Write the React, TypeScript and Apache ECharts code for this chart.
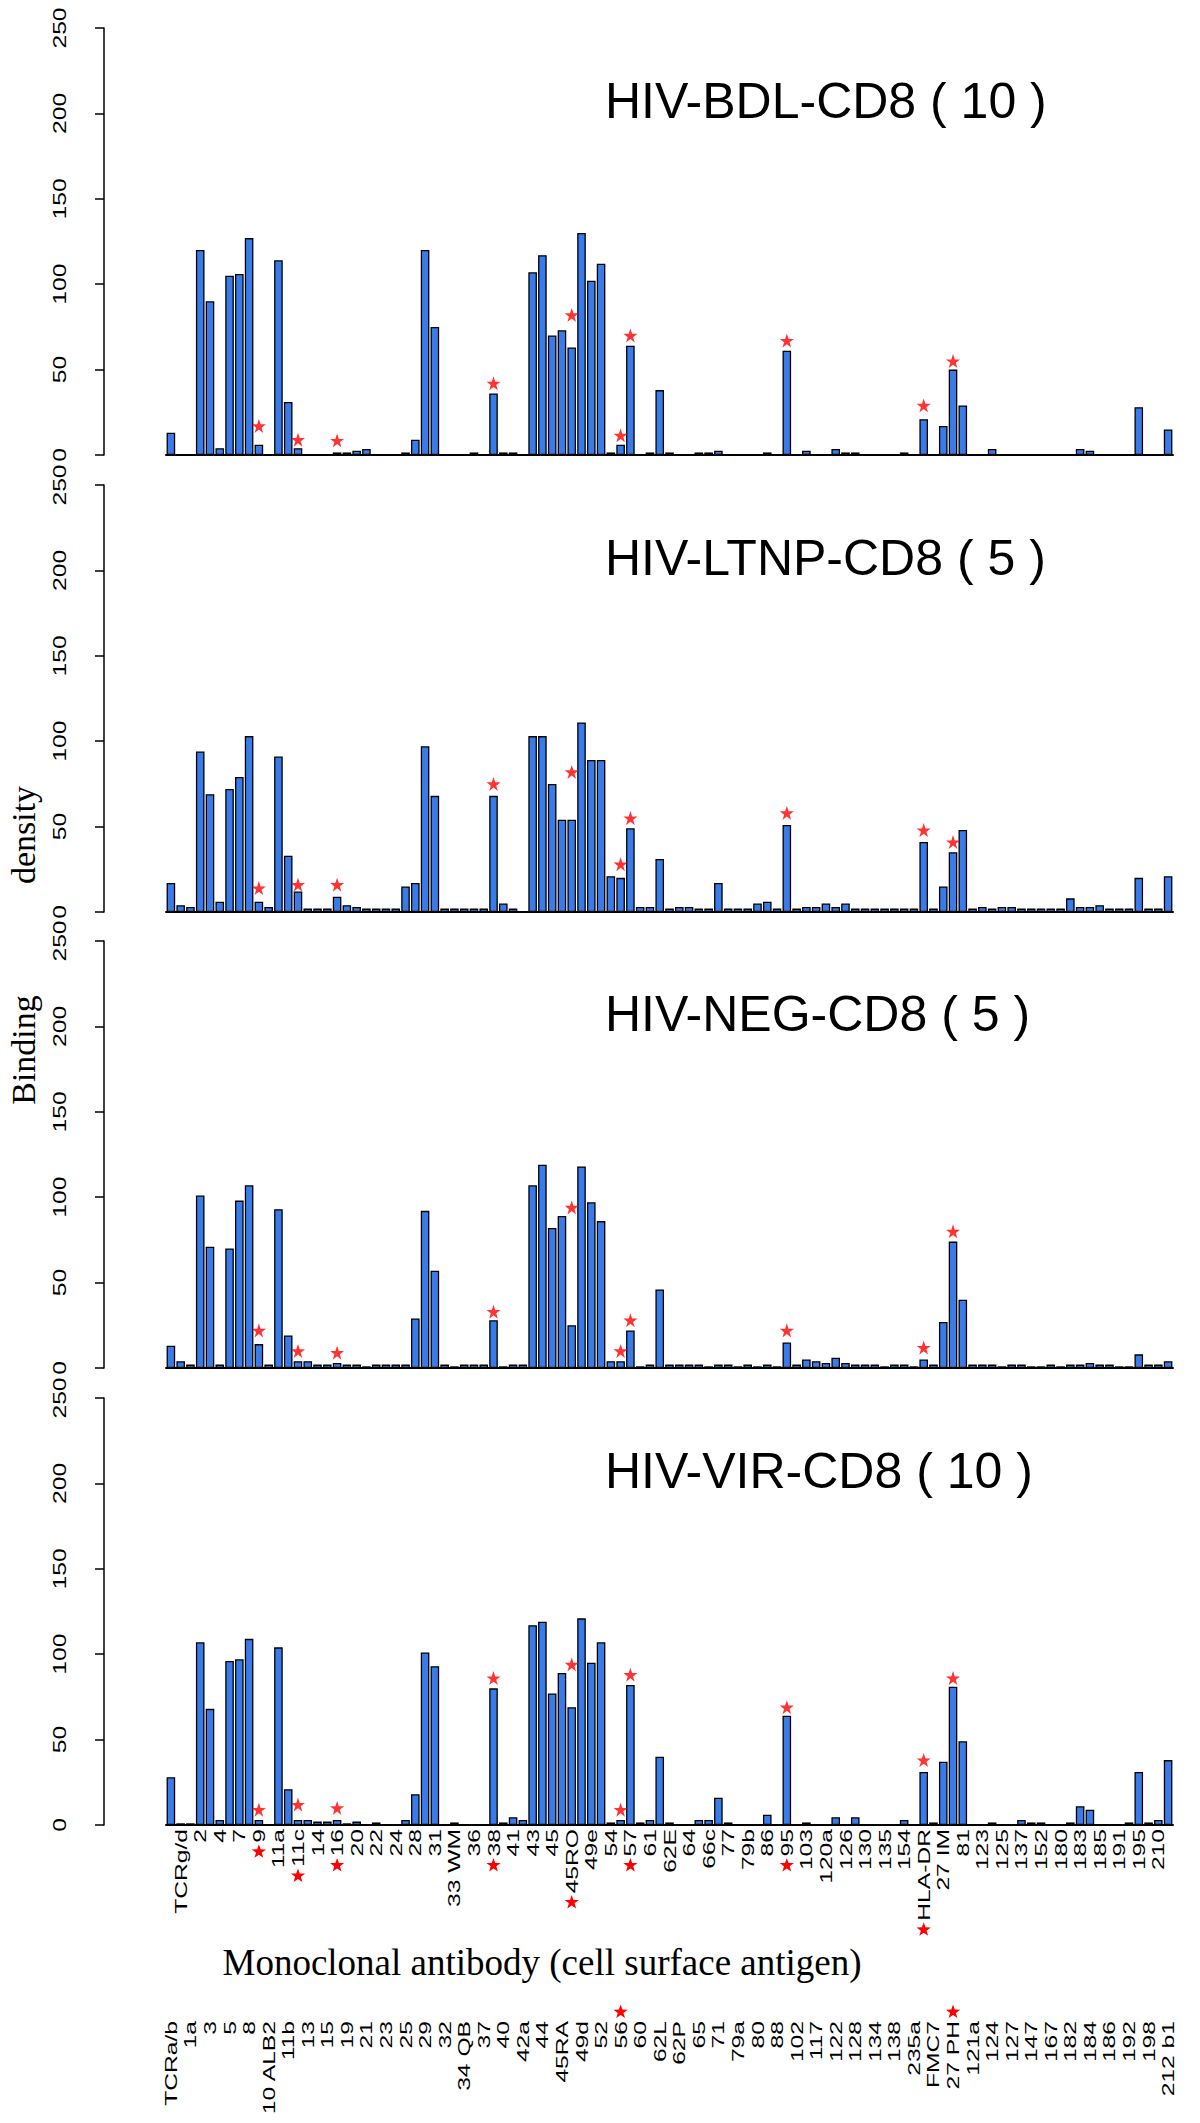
import React, { useEffect, useRef } from 'react';
import * as echarts from 'echarts';

const categories = [
  'TCRa/b','TCRg/d','1a','2','3','4','5','7','8','9',
  '10 ALB2','11a','11b','11c','13','14','15','16','19','20',
  '21','22','23','24','25','28','29','31','32','33 WM',
  '34 QB','36','37','38','40','41','42a','43','44','45',
  '45RA','45RO','49d','49e','52','54','56','57','60','61',
  '62L','62E','62P','64','65','66c','71','77','79a','79b',
  '80','86','88','95','102','103','117','120a','122','126',
  '128','130','134','135','138','154','235a','HLA-DR','FMC7','27 IM',
  '27 PH','81','121a','123','124','125','127','137','147','152',
  '167','180','182','183','184','185','186','191','192','195',
  '198','210','212 b1'
];

const panelTitles = ['HIV-BDL-CD8 ( 10 )', 'HIV-LTNP-CD8 ( 5 )', 'HIV-NEG-CD8 ( 5 )', 'HIV-VIR-CD8 ( 10 )'];

const bdl = [
  13,0,0,120,90,4,105,106,127,6,
  0,114,31,4,0,0,0,1.5,1.5,2.5,
  3.5,0,0,0,1.5,9,120,75,0,0,
  0,1.5,0,36,1.5,1.5,0,107,117,70,
  73,63,130,102,112,1.5,6,64,0,1.5,
  38,1.5,0,0,1.5,1.5,2.5,0,0,0,
  0,1.5,0,61,0,2.5,0,0,3.5,1.5,
  1.5,0,0,0,0,1.5,0,21,0,17,
  50,29,0,0,3.5,0,0,0,0,0,
  0,0,0,3.5,2.5,0,0,0,0,28,
  0,0,15
];
const ltnp = [
  17,4,3,94,69,6,72,79,103,6,
  3,91,33,12,2,2,2,9,4,3,
  2,2,2,2,15,17,97,68,2,2,
  2,2,2,68,5,2,0,103,103,75,
  54,54,111,89,89,21,20,49,3,3,
  31,2,3,3,2,2,17,2,2,2,
  5,6,2,51,2,3,3,5,3,5,
  2,2,2,2,2,2,2,41,2,15,
  35,48,2,3,2,3,3,2,2,2,
  2,2,8,3,3,4,2,2,2,20,
  2,2,21
];
const neg = [
  13,4,2,101,71,2,70,98,107,14,
  2,93,19,4,4,2,2,3,2,2,
  1,2,2,2,2,29,92,57,2,1,
  2,2,2,28,1,2,2,107,119,82,
  89,25,118,97,86,4,4,22,1,2,
  46,2,2,2,2,1,2,2,1,2,
  1,2,1,15,2,5,4,3,6,3,
  2,2,2,1,2,2,1,5,2,27,
  74,40,2,2,2,1,2,2,1,1,
  2,1,2,2,3,2,2,1,1,8,
  2,2,4
];
const vir = [
  28,1,1,107,68,3,96,97,109,3,
  0,104,21,3,3,2,2,3,1,2,
  0,1.5,0,0,3,18,101,93,0,1.5,
  0,0,0,80,1.5,4.5,3,117,119,77,
  89,69,121,95,107,1.5,3,82,1.5,3,
  40,1.5,0,0,3,3,16,1.5,0,0,
  0,6,0,64,0,1.5,0,0,4.5,0,
  4.5,0,0,0,0,3,0,31,1.5,37,
  81,49,0,0,1.5,0,0,3,1.5,1.5,
  0,0,1.5,11,9,0,0,0,1.5,31,
  1.5,3,38
];

// starred antibodies (category indices) and the heights of the stars in each panel
const starIdx = [9, 13, 17, 33, 41, 46, 47, 63, 77, 80];
const bdlStars = [17, 9, 8.5, 42, 82, 11.5, 70, 67, 29, 55];
const ltnpStars = [14, 16, 16, 75, 82, 28, 55, 58, 48, 41];
const negStars = [22, 10, 9, 33, 94, 10, 28, 22, 12, 80];
const virStars = [9, 12, 10, 86, 94, 9, 88, 69, 38, 86];

const yTicks = [0, 50, 100, 150, 200, 250];

const STAR = 'path://M50,0 L61.8,35.1 L97.6,35.1 L68.5,56.7 L79.4,90.9 L50,69.1 L20.6,90.9 L31.5,56.7 L2.4,35.1 L38.2,35.1 Z';
const SANS = '"Liberation Sans", Arial, sans-serif';
const SERIF = '"Liberation Serif", "Times New Roman", serif';

function starPoints(cx: number, cy: number, r: number) {
  const pts: number[][] = [];
  for (let k = 0; k < 10; k++) {
    const a = -Math.PI / 2 + (k * Math.PI) / 5;
    const rr = k % 2 === 0 ? r : r * 0.4;
    pts.push([cx + rr * Math.cos(a), cy + rr * Math.sin(a)]);
  }
  return pts;
}

export default function App() {
  const ref = useRef<HTMLDivElement>(null);
  useEffect(() => {
    document.body.style.margin = '0';
    const chart = echarts.init(ref.current!, null, { renderer: 'svg' });
    const values = [bdl, ltnp, neg, vir];
    const stars = [bdlStars, ltnpStars, negStars, virStars];
    const tops = [28, 485, 941, 1398];
    const H = 427;
    const L = 166;
    const R = 1200 - 1173;

    const grid: any[] = tops.map((t) => ({ left: L, right: R, top: t, height: H }));

    const xAxis: any[] = tops.map((_, i) => ({
      gridIndex: i,
      type: 'category',
      data: categories,
      position: 'bottom',
      axisLine: { show: true, onZero: false, lineStyle: { color: '#000', width: 2 } },
      axisTick: { show: false },
      axisLabel: { show: false },
      splitLine: { show: false },
    }));

    const yAxis: any[] = tops.map((_, i) => ({
      gridIndex: i,
      type: 'value',
      min: 0,
      max: 250,
      interval: 50,
      offset: 62,
      axisLine: { show: true, lineStyle: { color: '#000', width: 1.5 } },
      axisTick: { show: true, length: 9, lineStyle: { color: '#000', width: 1.5 } },
      axisLabel: { show: false },
      splitLine: { show: false },
    }));

    const series: any[] = [];
    values.forEach((vals, i) => {
      series.push({
        type: 'bar',
        xAxisIndex: i,
        yAxisIndex: i,
        data: vals,
        barCategoryGap: '12%',
        itemStyle: { color: '#3a7bea', borderColor: '#000', borderWidth: 1.3 },
        silent: true,
      });
      series.push({
        type: 'scatter',
        xAxisIndex: i,
        yAxisIndex: i,
        data: starIdx.map((x, k) => [x, stars[i][k]]),
        symbol: STAR,
        symbolSize: 14,
        itemStyle: { color: '#ff0000' },
        z: 5,
        silent: true,
      });
    });

    chart.setOption({
      animation: false,
      backgroundColor: '#fff',
      grid,
      xAxis,
      yAxis,
      series,
    });

    // texts: stretched along their reading direction like the reference
    const LBL_FS = 17;
    const STRETCH = 1.45;
    const lblFont = `${LBL_FS}px ${SANS}`;
    const yLblFont = `19px ${SANS}`;
    const ctx = document.createElement('canvas').getContext('2d')!;
    ctx.font = lblFont;
    const starSet = new Set(starIdx);
    const graphic: any[] = [];

    tops.forEach((t, i) => {
      graphic.push({
        type: 'text',
        x: 605,
        y: t + 73,
        style: { text: panelTitles[i], font: `50px ${SANS}`, fill: '#000', textVerticalAlign: 'middle' },
      });
      yTicks.forEach((v) => {
        const py = chart.convertToPixel({ yAxisIndex: i }, v) as number;
        graphic.push({
          type: 'text',
          x: 60,
          y: py,
          rotation: Math.PI / 2,
          scaleX: 1.3,
          style: { text: String(v), font: yLblFont, fill: '#000', textAlign: 'center', textVerticalAlign: 'middle' },
        });
      });
    });

    categories.forEach((name, i) => {
      const px = chart.convertToPixel({ xAxisIndex: 3 }, i) as number;
      const isTop = i % 2 === 1;
      const yEnd = isTop ? 1829 : 2021;
      graphic.push({
        type: 'text',
        x: px,
        y: yEnd,
        rotation: Math.PI / 2,
        scaleX: STRETCH,
        style: { text: name, font: lblFont, fill: '#000', textAlign: 'right', textVerticalAlign: 'middle' },
      });
      if (starSet.has(i)) {
        const w = ctx.measureText(name).width * STRETCH;
        const cy = isTop ? yEnd + w + 9 : yEnd - 9;
        graphic.push({
          type: 'polygon',
          shape: { points: starPoints(px, cy, 7.5) },
          style: { fill: '#ff0000' },
        });
      }
    });

    graphic.push({
      type: 'text',
      x: 542,
      y: 1962,
      style: {
        text: 'Monoclonal antibody (cell surface antigen)',
        font: `37px ${SERIF}`,
        fill: '#000',
        textAlign: 'center',
        textVerticalAlign: 'middle',
      },
    });
    graphic.push({
      type: 'text',
      x: 23,
      y: 835,
      rotation: Math.PI / 2,
      style: { text: 'density', font: `34px ${SERIF}`, fill: '#000', textAlign: 'center', textVerticalAlign: 'middle' },
    });
    graphic.push({
      type: 'text',
      x: 23,
      y: 1050,
      rotation: Math.PI / 2,
      style: { text: 'Binding', font: `34px ${SERIF}`, fill: '#000', textAlign: 'center', textVerticalAlign: 'middle' },
    });

    chart.setOption({ graphic });
    return () => chart.dispose();
  }, []);
  return <div ref={ref} style={{ width: 1200, height: 2123 }} />;
}
